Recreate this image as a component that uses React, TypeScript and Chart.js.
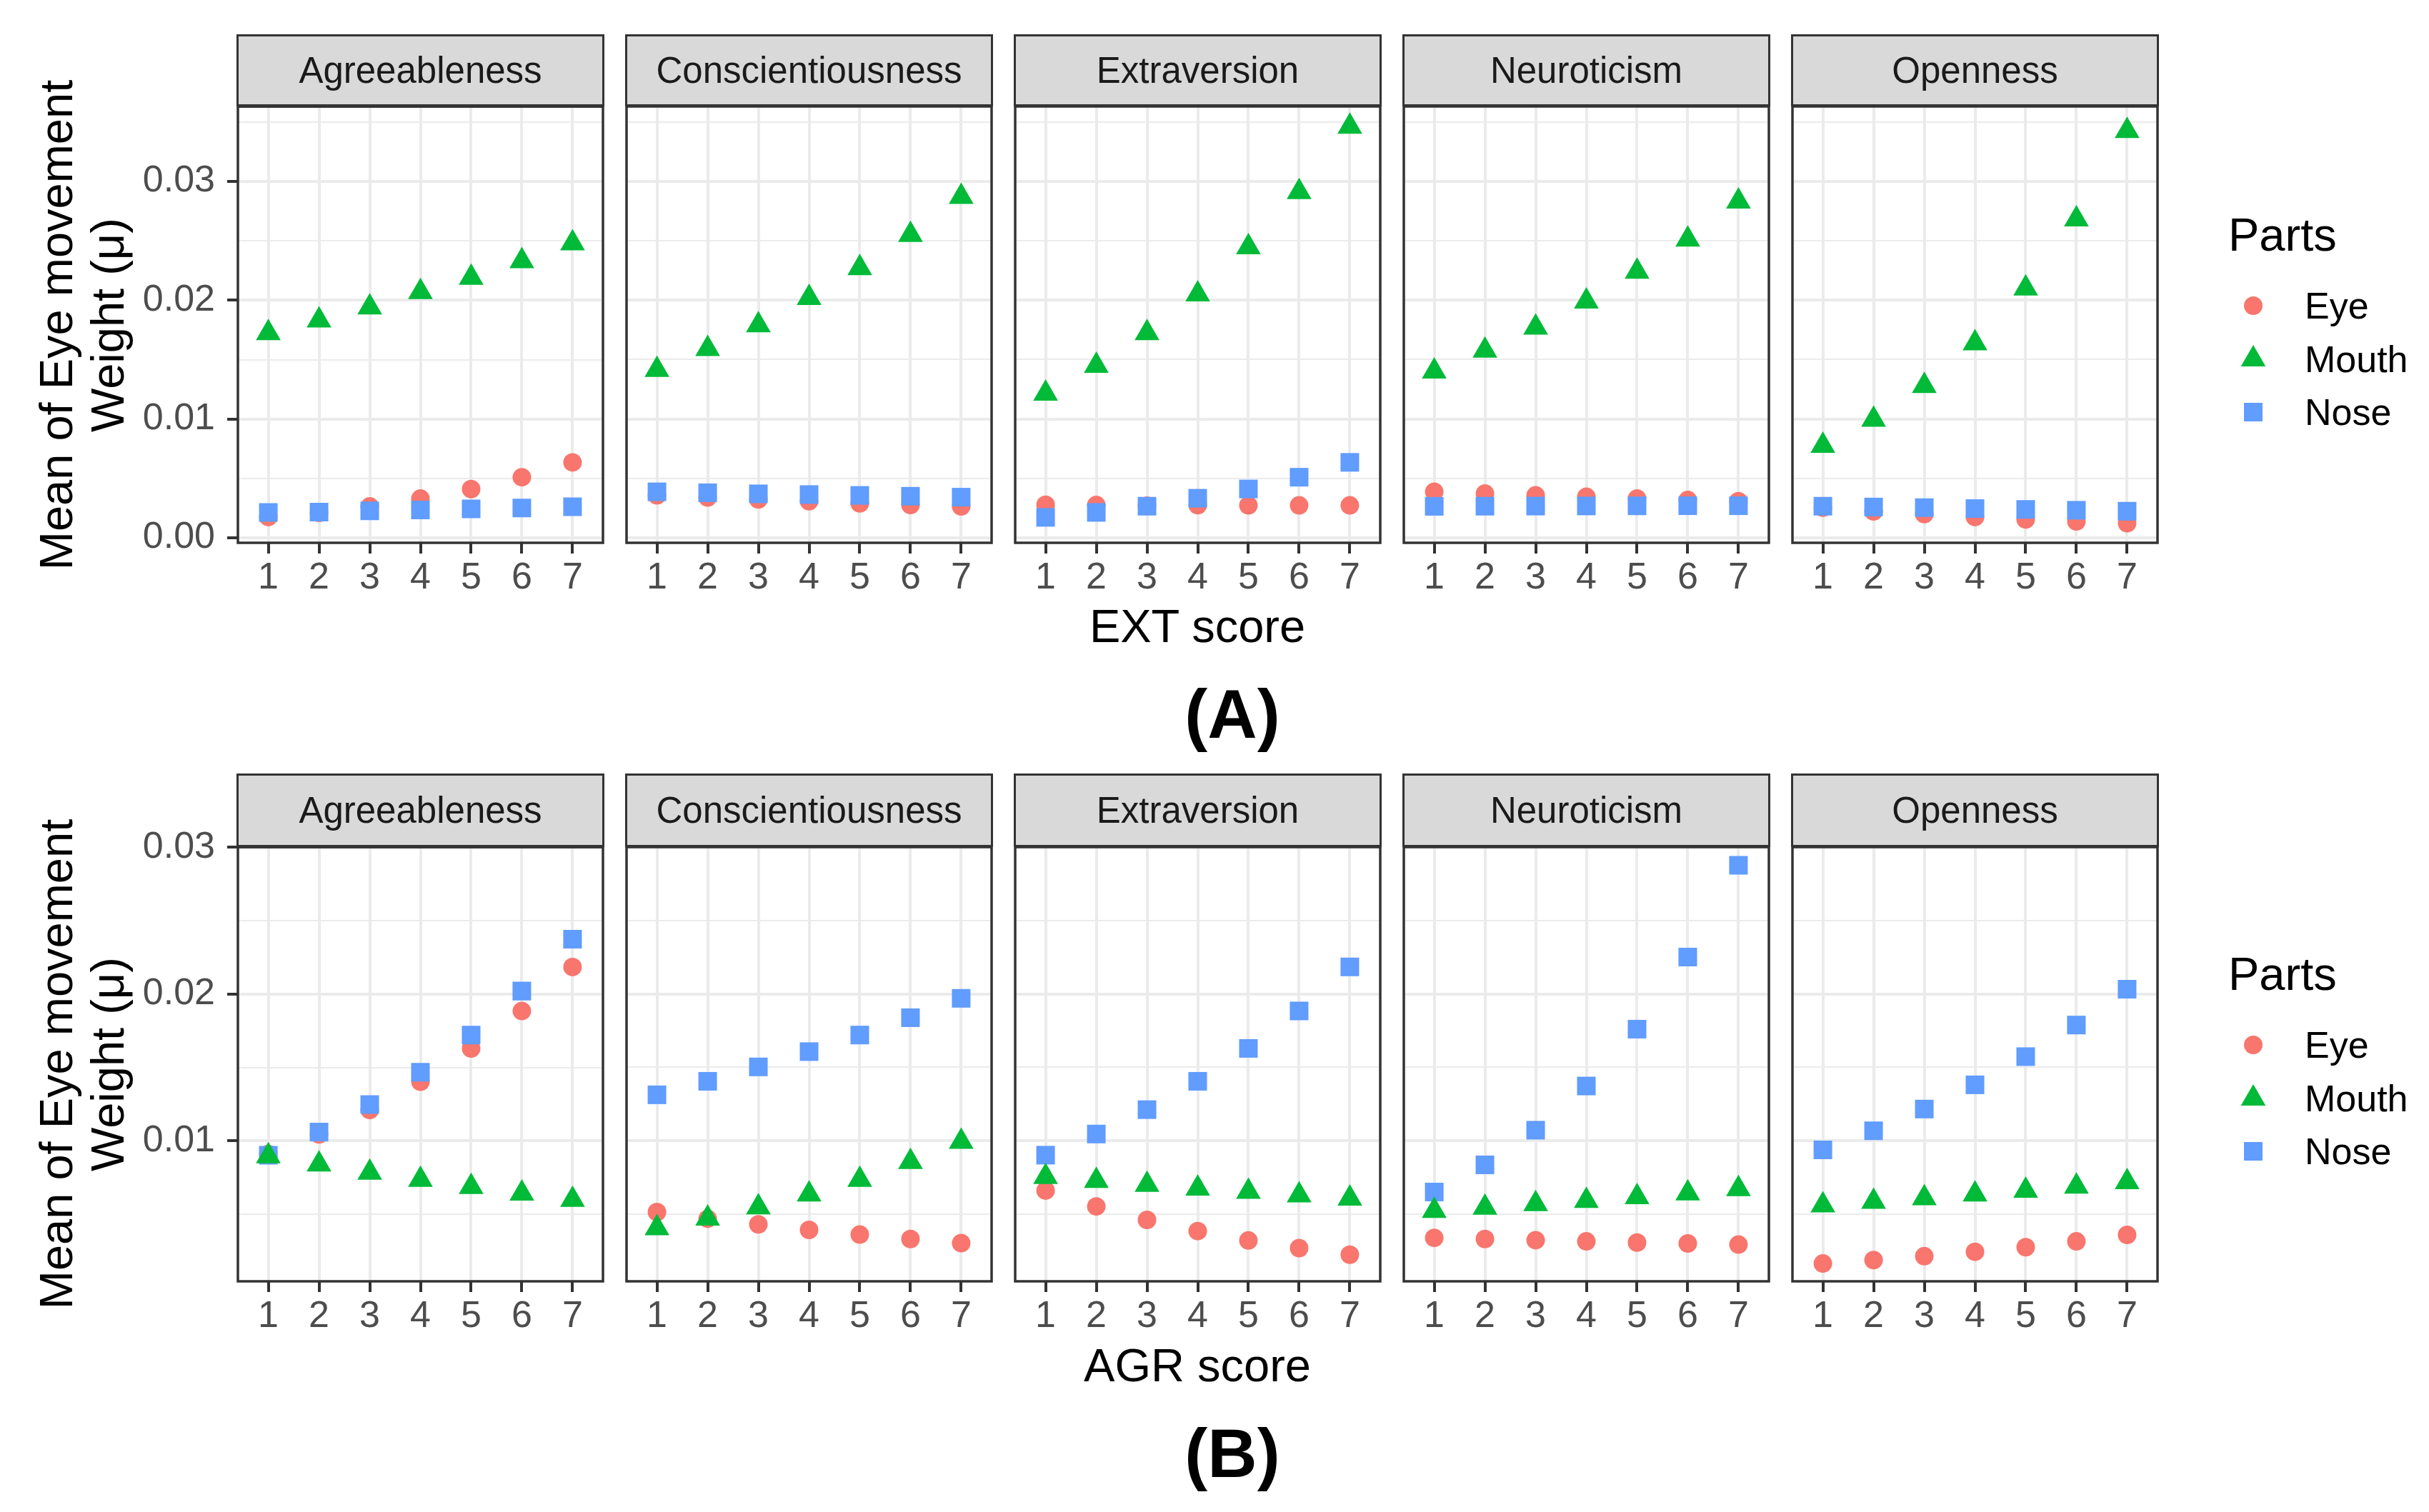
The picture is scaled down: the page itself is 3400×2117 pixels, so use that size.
import React, { useEffect, useRef } from "react";
import { Chart, registerables } from "chart.js";

Chart.register(...registerables);
Chart.defaults.font.family = '"Liberation Sans", Arial, Helvetica, sans-serif';

const scores = [1, 2, 3, 4, 5, 6, 7];
const traits = ["Agreeableness", "Conscientiousness", "Extraversion", "Neuroticism", "Openness"];
const parts = ["Eye", "Mouth", "Nose"];
const yMajorTicks = [0, 0.01, 0.02, 0.03];
const yMinorTicks = [0.005, 0.015, 0.025, 0.035];

// (A) by EXT score, one row per trait (same order as traits)
const extEye = [
  [0.00175, 0.0021, 0.00264, 0.0033, 0.0041, 0.0051, 0.00635],
  [0.00357, 0.0034, 0.00323, 0.00308, 0.0029, 0.00276, 0.00264],
  [0.00278, 0.00276, 0.0027, 0.00275, 0.00273, 0.00273, 0.00273],
  [0.00387, 0.00372, 0.00357, 0.00345, 0.0033, 0.00318, 0.00308],
  [0.00254, 0.00222, 0.002, 0.00175, 0.00155, 0.00138, 0.00123],
];
const extMouth = [
  [0.01724, 0.0183, 0.0194, 0.0207, 0.0219, 0.0233, 0.0248],
  [0.01414, 0.0159, 0.0179, 0.0202, 0.0227, 0.0255, 0.0287],
  [0.01214, 0.01448, 0.01724, 0.0205, 0.02446, 0.0291, 0.0346],
  [0.014, 0.01576, 0.0177, 0.0199, 0.0224, 0.0251, 0.0283],
  [0.00776, 0.00995, 0.01278, 0.01638, 0.02099, 0.0268, 0.03424],
];
const extNose = [
  [0.00214, 0.00217, 0.00227, 0.00234, 0.00244, 0.00251, 0.00261],
  [0.00387, 0.00379, 0.0037, 0.00364, 0.00357, 0.0035, 0.00342],
  [0.00172, 0.00214, 0.00266, 0.00333, 0.00411, 0.0051, 0.00635],
  [0.00265, 0.00266, 0.00267, 0.00268, 0.00269, 0.0027, 0.0027],
  [0.00266, 0.00259, 0.00254, 0.00246, 0.00239, 0.00232, 0.00224],
];

// (B) by AGR score
const agrEye = [
  [0.0091, 0.01044, 0.0121, 0.01403, 0.01629, 0.01884, 0.02184],
  [0.00515, 0.00469, 0.00431, 0.00393, 0.00361, 0.00331, 0.00303],
  [0.00661, 0.00553, 0.00461, 0.00385, 0.00321, 0.00269, 0.00224],
  [0.00339, 0.00331, 0.00323, 0.00315, 0.00307, 0.00301, 0.00293],
  [0.00164, 0.00188, 0.00214, 0.00244, 0.00275, 0.00315, 0.00359],
];
const agrMouth = [
  [0.00896, 0.0084, 0.00784, 0.00735, 0.00687, 0.00641, 0.00599],
  [0.00405, 0.00471, 0.00547, 0.00635, 0.00735, 0.00856, 0.00994],
  [0.00754, 0.00727, 0.00701, 0.00675, 0.00653, 0.00629, 0.00607],
  [0.00523, 0.00545, 0.00569, 0.00591, 0.00617, 0.00643, 0.00671],
  [0.00561, 0.00585, 0.00609, 0.00635, 0.00661, 0.00689, 0.00719],
];
const agrNose = [
  [0.00902, 0.0106, 0.01247, 0.01467, 0.0172, 0.0202, 0.02373],
  [0.01313, 0.01405, 0.01503, 0.01607, 0.0172, 0.01838, 0.0197],
  [0.00902, 0.01046, 0.01212, 0.01405, 0.01629, 0.01884, 0.02184],
  [0.00651, 0.00836, 0.01072, 0.01373, 0.0176, 0.02251, 0.02876],
  [0.00938, 0.01068, 0.01216, 0.01381, 0.01573, 0.01788, 0.02032],
];

const partColors = ["#F8766D", "#00BA38", "#619CFF"];
const partShapes = ["circle", "triangle", "rect"];
const partRadius = [13, 20, 18.4];
const partOrder = [2, 0, 1]; // mouth on top, then nose, eye underneath

const FONT = '"Liberation Sans", Arial, Helvetica, sans-serif';
const PANEL_W = 511;
const panelLefts = [333, 877, 1421, 1965, 2509];

type RowSpec = {
  xTitle: string;
  tag: string;
  eye: number[][];
  mouth: number[][];
  nose: number[][];
  yMin: number;
  yMax: number;
  stripTop: number;
  panelTop: number;
  panelBottom: number;
  shift: number;
};

const rows: RowSpec[] = [
  {
    xTitle: "EXT score", tag: "(A)", eye: extEye, mouth: extMouth, nose: extNose,
    yMin: -0.00042, yMax: 0.0363, stripTop: 50, panelTop: 149, panelBottom: 760, shift: 0,
  },
  {
    xTitle: "AGR score", tag: "(B)", eye: agrEye, mouth: agrMouth, nose: agrNose,
    yMin: 0.00043, yMax: 0.03, stripTop: 1085, panelTop: 1186, panelBottom: 1794, shift: 1035,
  },
];

const isMajor = (v: number) => Math.abs(v * 100 - Math.round(v * 100)) < 1e-6;

const panelBorder = {
  id: "panelBorder",
  afterDatasetsDraw(chart: any) {
    const { ctx, chartArea: a } = chart;
    ctx.save();
    ctx.strokeStyle = "#333333";
    ctx.lineWidth = 3.5;
    ctx.strokeRect(a.left, a.top, a.right - a.left, a.bottom - a.top);
    ctx.restore();
  },
};

const Panel = ({ row, t }: { row: RowSpec; t: number }) => {
  const canvasRef = useRef<HTMLCanvasElement | null>(null);
  const first = t === 0;
  const leftW = first ? 153 : 0;
  const panelH = row.panelBottom - row.panelTop;
  const bottomH = 90;
  const w0 = leftW + PANEL_W + 40;
  const h0 = 60 + panelH + bottomH;

  useEffect(() => {
    const canvas = canvasRef.current;
    if (!canvas) return;
    const ctx = canvas.getContext("2d");
    if (!ctx) return;

    const series = [row.eye[t], row.mouth[t], row.nose[t]];
    const datasets = parts.map((p, k) => ({
      label: p,
      data: scores.map((x, i) => ({ x, y: series[k][i] })),
      pointStyle: partShapes[k],
      pointRadius: partRadius[k],
      pointHoverRadius: partRadius[k],
      pointBackgroundColor: partColors[k],
      pointBorderWidth: 0,
      showLine: false,
      order: partOrder[k],
    }));

    const yTicks = [...yMajorTicks, ...yMinorTicks]
      .filter((v) => v >= row.yMin - 1e-9 && v <= row.yMax + 1e-9)
      .sort((a, b) => a - b);

    const chart = new Chart(ctx, {
      type: "scatter",
      data: { datasets: datasets as any },
      options: {
        animation: false,
        responsive: false,
        maintainAspectRatio: false,
        layout: { padding: { top: 40, right: 8, left: first ? 0 : 8, bottom: 0 } },
        plugins: { legend: { display: false }, tooltip: { enabled: false } },
        scales: {
          x: {
            type: "linear",
            min: 0.4,
            max: 7.6,
            afterBuildTicks: (s: any) => {
              s.ticks = scores.map((v) => ({ value: v }));
            },
            afterFit: (s: any) => {
              s.height = bottomH;
            },
            grid: { color: "#EBEBEB", lineWidth: 4, tickColor: "#333333", tickWidth: 4, tickLength: 15 },
            border: { display: false },
            ticks: {
              font: { size: 52 },
              color: "#4D4D4D",
              padding: 3,
              maxRotation: 0,
              autoSkip: false,
              callback: (v: any) => String(v),
            },
          },
          y: {
            type: "linear",
            min: row.yMin,
            max: row.yMax,
            afterBuildTicks: (s: any) => {
              s.ticks = yTicks.map((v) => ({ value: v }));
            },
            afterFit: (s: any) => {
              s.width = leftW;
            },
            grid: {
              color: "#EBEBEB",
              lineWidth: (c: any) => (c.tick && isMajor(c.tick.value) ? 4 : 2),
              drawTicks: first,
              tickLength: 15,
              tickWidth: 4,
              tickColor: (c: any) => (c.tick && isMajor(c.tick.value) ? "#333333" : "rgba(0,0,0,0)"),
            },
            border: { display: false },
            ticks: {
              display: first,
              font: { size: 52 },
              color: "#4D4D4D",
              padding: 17,
              autoSkip: false,
              callback: (v: any) => (isMajor(Number(v)) ? Number(v).toFixed(2) : ""),
            },
          },
        },
      },
      plugins: [panelBorder],
    });

    // make the plot area exactly the panel size, then move the canvas onto the panel
    const place = () => {
      const a = chart.chartArea;
      const cw = Math.round(chart.width + (PANEL_W - (a.right - a.left)));
      const ch = Math.round(chart.height + (panelH - (a.bottom - a.top)));
      if (cw !== chart.width || ch !== chart.height) chart.resize(cw, ch);
      const b = chart.chartArea;
      canvas.style.left = `${panelLefts[t] - b.left}px`;
      canvas.style.top = `${row.panelTop - b.top}px`;
    };
    place();
    place();

    return () => {
      chart.destroy();
    };
  }, []);

  return (
    <>
      <canvas
        ref={canvasRef}
        width={w0}
        height={h0}
        style={{
          position: "absolute",
          left: panelLefts[t] - leftW,
          top: row.panelTop - 40,
          width: w0,
          height: h0,
        }}
      />
      <div
        style={{
          position: "absolute",
          left: panelLefts[t] - 1.75,
          top: row.stripTop - 1.75,
          width: PANEL_W + 3.5,
          height: row.panelTop - row.stripTop + 1.75,
          boxSizing: "border-box",
          background: "#D9D9D9",
          border: "3.5px solid #333333",
          display: "flex",
          alignItems: "center",
          justifyContent: "center",
          fontFamily: FONT,
          fontSize: 51,
          color: "#1A1A1A",
        }}
      >
        {traits[t]}
      </div>
    </>
  );
};

const Legend = ({ shift }: { shift: number }) => {
  const keyY = [428, 503, 577];
  return (
    <>
      <div
        style={{
          position: "absolute", left: 3119, top: 296 + shift, fontFamily: FONT,
          fontSize: 65, lineHeight: "65px", color: "#000",
        }}
      >
        Parts
      </div>
      {parts.map((p, k) => (
        <React.Fragment key={p}>
          <svg
            width={50}
            height={50}
            viewBox="-25 -25 50 50"
            style={{ position: "absolute", left: 3154 - 25, top: keyY[k] + shift - 25 }}
          >
            {k === 0 && <circle cx={0} cy={0} r={13} fill={partColors[0]} />}
            {k === 1 && <polygon points="0,-20 17.32,10 -17.32,10" fill={partColors[1]} />}
            {k === 2 && <rect x={-13} y={-13} width={26} height={26} fill={partColors[2]} />}
          </svg>
          <div
            style={{
              position: "absolute", left: 3226, top: keyY[k] + shift - 30, fontFamily: FONT,
              fontSize: 52, lineHeight: "60px", color: "#000",
            }}
          >
            {p}
          </div>
        </React.Fragment>
      ))}
    </>
  );
};

const Row = ({ row }: { row: RowSpec }) => {
  const cy = (row.panelTop + row.panelBottom) / 2;
  return (
    <>
      {traits.map((_, t) => (
        <Panel key={t} row={row} t={t} />
      ))}
      <div
        style={{
          position: "absolute", left: 115 - 500, top: cy - 72, width: 1000, height: 144,
          transform: "rotate(-90deg)", transformOrigin: "50% 50%", fontFamily: FONT,
          fontSize: 65, lineHeight: "72px", textAlign: "center", color: "#000",
        }}
      >
        <div>Mean of Eye movement</div>
        <div>Weight (μ)</div>
      </div>
      <div
        style={{
          position: "absolute", left: 1676 - 400, top: 844 + row.shift, width: 800,
          textAlign: "center", fontFamily: FONT, fontSize: 65, lineHeight: "65px", color: "#000",
        }}
      >
        {row.xTitle}
      </div>
      <div
        style={{
          position: "absolute", left: 1725 - 200, top: 952 + row.shift, width: 400,
          textAlign: "center", fontFamily: FONT, fontSize: 96, fontWeight: "bold",
          lineHeight: "96px", color: "#000",
        }}
      >
        {row.tag}
      </div>
      <Legend shift={row.shift} />
    </>
  );
};

const App = () => {
  return (
    <div
      style={{
        position: "fixed", left: 0, top: 0, width: 3400, height: 2117,
        background: "#FFFFFF", overflow: "hidden",
      }}
    >
      {rows.map((r) => (
        <Row key={r.tag} row={r} />
      ))}
    </div>
  );
};

export default App;
